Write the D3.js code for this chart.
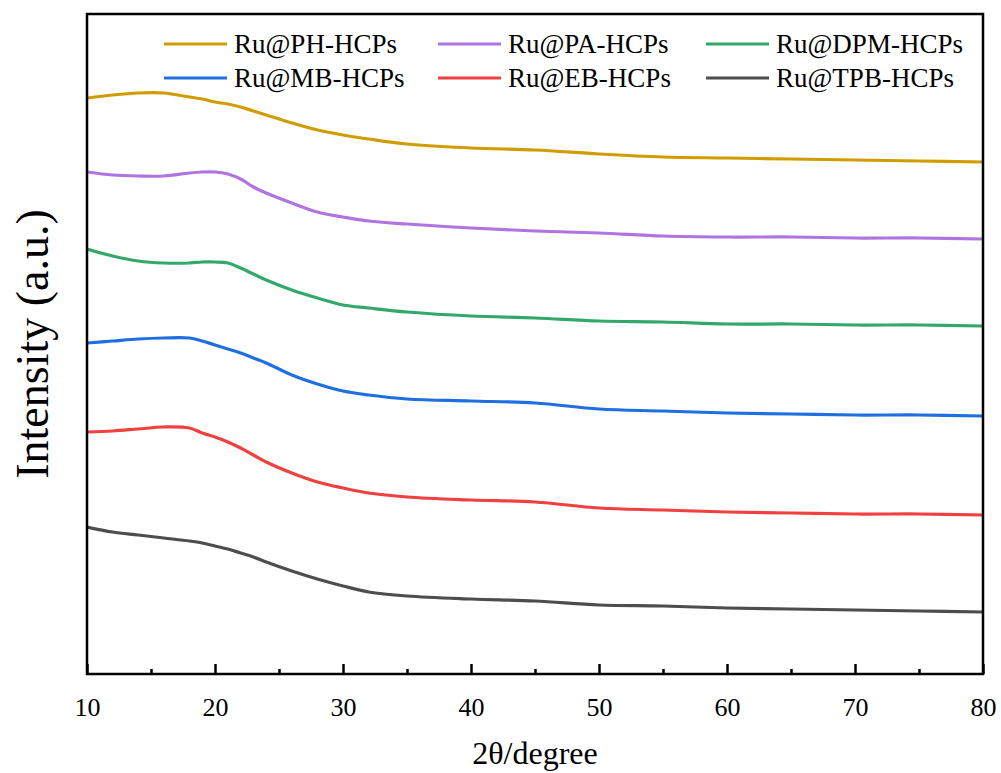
<!DOCTYPE html>
<html>
<head>
<meta charset="utf-8">
<script src="https://cdn.jsdelivr.net/npm/d3@7"></script>
<style>
  body { margin: 0; background: #fff; }
</style>
</head>
<body>
<svg id="chart" width="1001" height="773" font-family="'Liberation Serif', serif"></svg>
<script>
// 2theta positions shared by all patterns
var theta = [10, 12, 14, 16, 18, 19, 20, 21, 22, 23, 24, 26, 28, 30, 32, 35, 40, 45, 50, 55, 60, 65, 70, 75, 80];

// intensities (a.u., stacked offsets as in the figure)
var ph  = [576, 579, 581, 581, 577, 575, 572, 570, 567, 563, 559, 551, 544, 539, 535, 530, 526, 524, 520, 517, 516, 515, 514, 513, 512];
var pa  = [502, 499, 498, 498, 501, 502, 502, 500, 495, 487, 481, 471, 462, 457, 453, 450, 446, 443, 441, 438, 437, 437, 436, 436, 435];
var dpm = [425, 418, 413, 411, 411, 412, 412, 411, 406, 400, 394, 384, 376, 369, 366, 362, 358, 356, 353, 352, 350, 350, 349, 349, 348];
var mb  = [331, 333, 335, 336, 336, 333, 329, 325, 321, 316, 311, 299, 290, 283, 279, 275, 273, 271, 265, 263, 261, 260, 259, 259, 258];
var eb  = [242, 243, 245, 247, 246, 241, 237, 232, 226, 219, 212, 201, 192, 186, 181, 177, 174, 172, 166, 164, 162, 161, 160, 160, 159];
var tpb = [147, 142, 139, 136, 133, 131, 128, 125, 121, 117, 112, 103, 95, 88, 82, 78, 75, 73, 69, 68, 66, 65, 64, 63, 62];

var names = ["Ru@PH-HCPs", "Ru@PA-HCPs", "Ru@DPM-HCPs", "Ru@MB-HCPs", "Ru@EB-HCPs", "Ru@TPB-HCPs"];
var colors = ["#d19c00", "#b074e0", "#33a86a", "#1f6fe0", "#f04040", "#4d4d4d"];
var seriesVals = [ph, pa, dpm, mb, eb, tpb];

var majorTicks = [10, 20, 30, 40, 50, 60, 70, 80];
var minorTicks = [15, 25, 35, 45, 55, 65, 75];

var serif = "'Liberation Serif', serif";

var svg = d3.select("#chart"),
    margin = {top: 14, right: 18, bottom: 99, left: 87},
    width = +svg.attr("width") - margin.left - margin.right,
    height = +svg.attr("height") - margin.top - margin.bottom,
    g = svg.append("g").attr("transform", "translate(" + margin.left + "," + margin.top + ")");

var x = d3.scaleLinear().domain([10, 80]).range([0, width]);
var y = d3.scaleLinear().domain([0, 660]).range([height, 0]);

var line = d3.line()
    .curve(d3.curveCatmullRom.alpha(0.5))
    .x(function(d) { return x(d[0]); })
    .y(function(d) { return y(d[1]); });

g.append("defs").append("clipPath").attr("id", "clip")
  .append("rect").attr("width", width).attr("height", height);

seriesVals.forEach(function(vals, i) {
  var pts = theta.map(function(t, j) { return [t, vals[j]]; });
  g.append("path")
    .datum(pts)
    .attr("clip-path", "url(#clip)")
    .attr("fill", "none")
    .attr("stroke", colors[i])
    .attr("stroke-width", 3.2)
    .attr("stroke-linejoin", "round")
    .attr("d", line);
});

// x axis, ticks pointing inward
var xAxis = g.append("g")
    .attr("transform", "translate(0," + height + ")")
    .call(d3.axisBottom(x).tickValues(majorTicks).tickSizeInner(-10).tickSizeOuter(0).tickPadding(24).tickFormat(d3.format("d")));
xAxis.attr("font-family", serif).attr("font-size", 26);
xAxis.select(".domain").remove();
xAxis.selectAll("line").attr("stroke", "#000").attr("stroke-width", 2.5);
xAxis.selectAll("text").attr("fill", "#000").attr("font-family", serif);

var xMinor = g.append("g")
    .attr("transform", "translate(0," + height + ")")
    .call(d3.axisBottom(x).tickValues(minorTicks).tickSizeInner(-5).tickSizeOuter(0).tickFormat(""));
xMinor.select(".domain").remove();
xMinor.selectAll("line").attr("stroke", "#000").attr("stroke-width", 2.5);

// frame
g.append("rect")
  .attr("width", width).attr("height", height)
  .attr("fill", "none").attr("stroke", "#000").attr("stroke-width", 2.5);

// axis titles
svg.append("text")
  .attr("x", margin.left + width / 2).attr("y", 764)
  .attr("text-anchor", "middle").attr("font-size", 32)
  .attr("font-family", serif)
  .text("2θ/degree");

svg.append("text")
  .attr("transform", "translate(48," + (margin.top + height / 2) + ") rotate(-90)")
  .attr("text-anchor", "middle").attr("font-size", 46)
  .attr("font-family", serif)
  .text("Intensity (a.u.)");

// legend
var legX = [164, 438, 706], legY = [44, 78];
names.forEach(function(n, i) {
  var cx = legX[i % 3], cy = legY[Math.floor(i / 3)];
  svg.append("line")
    .attr("x1", cx).attr("x2", cx + 63).attr("y1", cy).attr("y2", cy)
    .attr("stroke", colors[i]).attr("stroke-width", 3);
  svg.append("text")
    .attr("x", cx + 70).attr("y", cy + 9)
    .attr("font-size", 27)
    .attr("font-family", serif)
    .text(n);
});
</script>
</body>
</html>
